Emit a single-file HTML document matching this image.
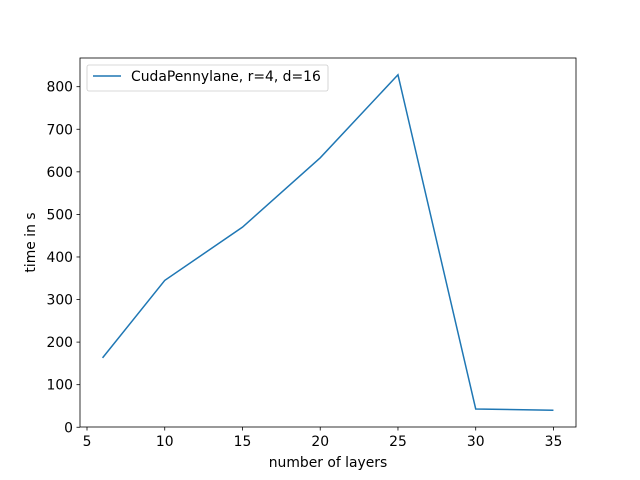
<!DOCTYPE html>
<html><head><meta charset="utf-8"><style>body{margin:0;background:#fff}svg{display:block}text{font-family:"DejaVu Sans","Liberation Sans",sans-serif;font-size:13.9px;fill:#000}</style></head>
<body>
<svg id="chart" width="640" height="480">
<rect x="80" y="58" width="496" height="369" fill="#fff" stroke="#000" stroke-width="0.8"/>
<g id="axes"></g>
<path id="series" fill="none" stroke="#1f77b4" stroke-width="1.5"/>
<text x="328" y="467" text-anchor="middle">number of layers</text>
<text transform="translate(35,242.5) rotate(-90)" text-anchor="middle">time in s</text>
<g>
<rect x="87" y="65" width="241" height="26" rx="2" fill="#fff" stroke="#ccc" stroke-width="0.8"/>
<line x1="93" y1="76" x2="121" y2="76" stroke="#1f77b4" stroke-width="1.5"/>
<text x="131" y="81">CudaPennylane, r=4, d=16</text>
</g>
</svg>
<script>
const layers=[6,10,15,20,25,30,35];
const times=[163,345,470,633,828,43,40];
const xTicks=[5,10,15,20,25,30,35];
const yTicks=[0,100,200,300,400,500,600,700,800];
const xMin=4.55,xMax=36.45,yMin=0.6,yMax=867.4;
const X=v=>80+(v-xMin)/(xMax-xMin)*496;
const Y=v=>427-(v-yMin)/(yMax-yMin)*369;
const ns="http://www.w3.org/2000/svg",g=document.getElementById('axes');
function mk(t,a){const e=document.createElementNS(ns,t);for(const k in a)e.setAttribute(k,a[k]);g.appendChild(e);return e;}
xTicks.forEach(v=>{const l=mk('line',{x1:X(v),x2:X(v),y1:427,y2:430.5,stroke:'#000','stroke-width':0.8});


const t=mk('text',{x:X(v),y:446,'text-anchor':'middle'});t.textContent=v;

});
yTicks.forEach(v=>{const l=mk('line',{x1:76.5,x2:80,y1:Y(v),y2:Y(v),stroke:'#000','stroke-width':0.8});


const t=mk('text',{x:73,y:Y(v)+5,'text-anchor':'end'});t.textContent=v;

});
document.getElementById('series').setAttribute('d',layers.map((v,i)=>(i?'L':'M')+X(v)+','+Y(times[i])).join(' '));
</script>
</body></html>
